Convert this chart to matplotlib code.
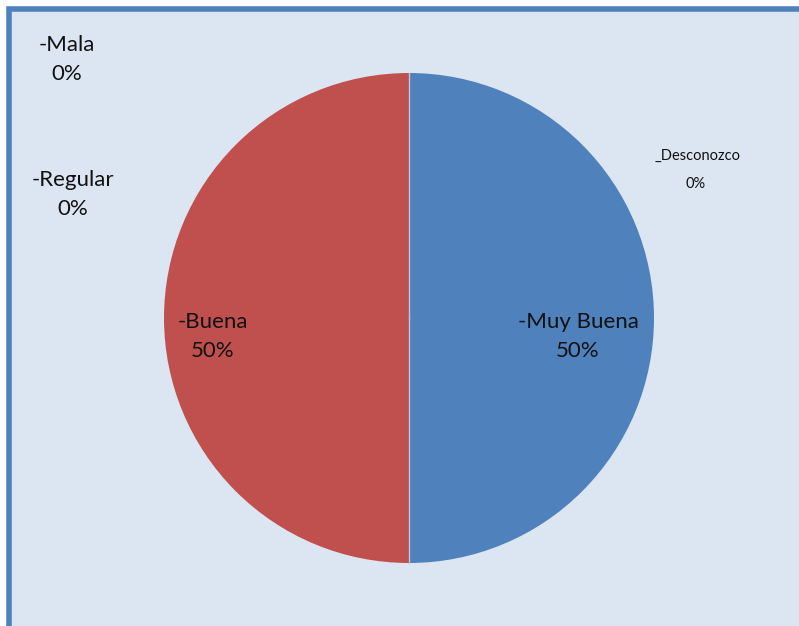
import numpy as np
import matplotlib.pyplot as plt
from matplotlib.patches import Rectangle

# datos del grafico
categorias = ['-Muy Buena', '-Buena', '-Regular', '-Mala', '_Desconozco']
valores = [50, 50, 0, 0, 0]
colores = ['#4f81bd', '#c0504d', '#9bbb59', '#8064a2', '#4bacc6']

W, H = 799, 626
fig = plt.figure(figsize=(W / 100, H / 100), dpi=100)
fig.patch.set_facecolor('white')
ax = fig.add_axes([0, 0, 1, 1])
ax.set_xlim(0, W)
ax.set_ylim(0, H)
ax.set_aspect('equal')
ax.axis('off')

# fondo y borde del area del grafico (sin borde derecho ni inferior visibles)
ax.add_patch(Rectangle((8.5, -20), W + 20, H - 8.5 + 20, facecolor='#dce6f2',
                       edgecolor='#4f81bd', lw=4, zorder=0))

cx, cy, r = 409, H - 318, 245
wedges, _ = ax.pie([v for v in valores if v > 0], colors=colores[:2], startangle=90,
                   counterclock=False, center=(cx, cy), radius=r,
                   wedgeprops=dict(edgecolor='none', linewidth=0))
ax.set_xlim(0, W)
ax.set_ylim(0, H)

# lineas divisorias entre porciones
for w in wedges:
    a = np.deg2rad(w.theta1)
    ax.plot([cx, cx + r * np.cos(a)], [cy, cy + r * np.sin(a)], color='#b9c6dc', lw=1, zorder=5)

fuente = ['Lato', 'DejaVu Sans']
dist = [0.69, 0.80]

# etiquetas de las porciones con valor
for w, nombre, v, d in zip(wedges, categorias, valores, dist):
    ang = np.deg2rad((w.theta1 + w.theta2) / 2)
    x = cx + d * r * np.cos(ang)
    y = cy + d * r * np.sin(ang) - 19
    ax.text(x, y + 15, nombre, ha='center', va='center', fontsize=16, family=fuente, color='#111111')
    ax.text(x, y - 14, f'{v}%', ha='center', va='center', fontsize=16, family=fuente, color='#111111')

# etiquetas de las porciones en cero
pos_cero = {'-Regular': (73, H - 195), '-Mala': (67, H - 60)}
for nombre, v in zip(categorias, valores):
    if nombre in pos_cero:
        x, y = pos_cero[nombre]
        ax.text(x, y + 15, nombre, ha='center', va='center', fontsize=16, family=fuente, color='#111111')
        ax.text(x, y - 14, f'{v}%', ha='center', va='center', fontsize=16, family=fuente, color='#111111')
    elif nombre == '_Desconozco':
        ax.text(698, H - 156, nombre, ha='center', va='center', fontsize=10.5, family=fuente, color='#111111')
        ax.text(696, H - 184, f'{v}%', ha='center', va='center', fontsize=10.5, family=fuente, color='#111111')

fig.savefig('out.png', dpi=100, facecolor=fig.get_facecolor())
